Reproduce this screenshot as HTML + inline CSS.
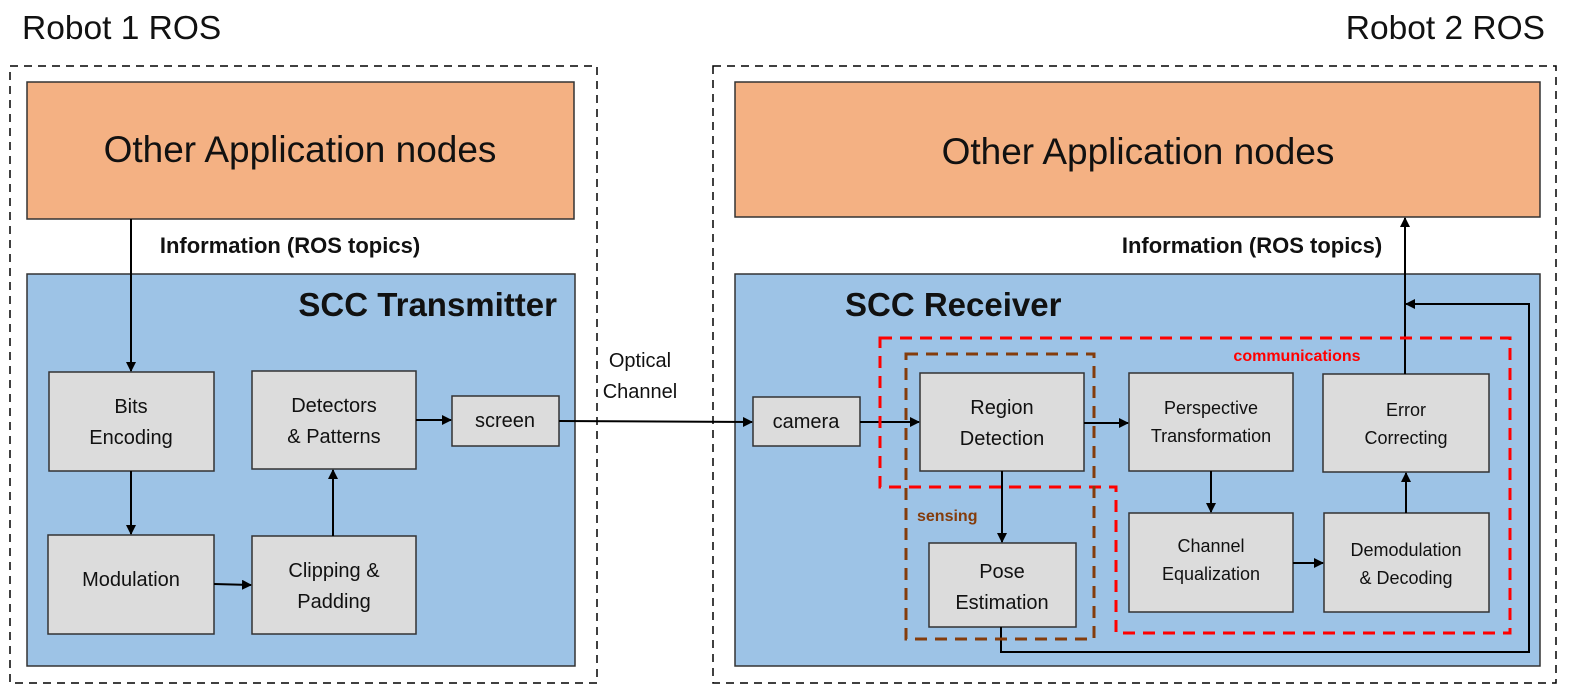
<!DOCTYPE html>
<html><head><meta charset="utf-8"><style>
html,body{margin:0;padding:0;background:#fff;}
svg{display:block;}
text{font-family:"Liberation Sans",sans-serif;fill:#111;}
</style></head><body>
<svg width="1570" height="700" viewBox="0 0 1570 700" xmlns="http://www.w3.org/2000/svg">
<defs>
<marker id="a" markerWidth="10" markerHeight="10" refX="9" refY="5" orient="auto" markerUnits="userSpaceOnUse">
<path d="M0,0 L10,5 L0,10 z" fill="#000"/></marker>
</defs>
<text x="22" y="39" font-size="33.5">Robot 1 ROS</text>
<text x="1545" y="39" font-size="33.5" text-anchor="end">Robot 2 ROS</text>

<rect x="10" y="66" width="587" height="617" fill="none" stroke="#000" stroke-width="1.5" stroke-dasharray="8,6"/>
<rect x="713" y="66" width="843" height="617" fill="none" stroke="#000" stroke-width="1.5" stroke-dasharray="8,6"/>

<rect x="27" y="82" width="547" height="137" fill="#f4b183" stroke="#333" stroke-width="1.5"/>
<text x="300" y="162" font-size="37" text-anchor="middle">Other Application nodes</text>
<rect x="735" y="82" width="805" height="135" fill="#f4b183" stroke="#333" stroke-width="1.5"/>
<text x="1138" y="164" font-size="37" text-anchor="middle">Other Application nodes</text>

<text x="290" y="253" font-size="22" font-weight="bold" text-anchor="middle">Information (ROS topics)</text>
<text x="1252" y="253" font-size="22" font-weight="bold" text-anchor="middle">Information (ROS topics)</text>

<rect x="27" y="274" width="548" height="392" fill="#9dc3e6" stroke="#333" stroke-width="1.5"/>
<rect x="735" y="274" width="805" height="392" fill="#9dc3e6" stroke="#333" stroke-width="1.5"/>
<text x="557" y="316" font-size="33" font-weight="bold" text-anchor="end">SCC Transmitter</text>
<text x="845" y="316" font-size="33" font-weight="bold">SCC Receiver</text>

<g fill="#dcdcdc" stroke="#333" stroke-width="1.5">
<rect x="49" y="372" width="165" height="99"/>
<rect x="48" y="535" width="166" height="99"/>
<rect x="252" y="371" width="164" height="98"/>
<rect x="252" y="536" width="164" height="98"/>
<rect x="452" y="396" width="107" height="50"/>
<rect x="753" y="397" width="107" height="49"/>
<rect x="920" y="373" width="164" height="98"/>
<rect x="1129" y="373" width="164" height="98"/>
<rect x="1323" y="374" width="166" height="98"/>
<rect x="1129" y="513" width="164" height="99"/>
<rect x="1324" y="513" width="165" height="99"/>
<rect x="929" y="543" width="147" height="84"/>
</g>
<g font-size="20" text-anchor="middle">
<text x="131" y="413">Bits</text><text x="131" y="444">Encoding</text>
<text x="131" y="586">Modulation</text>
<text x="334" y="412">Detectors</text><text x="334" y="443">&amp; Patterns</text>
<text x="334" y="577">Clipping &amp;</text><text x="334" y="608">Padding</text>
<text x="505" y="427">screen</text>
<text x="806" y="428">camera</text>
<text x="1002" y="414">Region</text><text x="1002" y="445">Detection</text>
<text x="1211" y="414" font-size="18">Perspective</text><text x="1211" y="442" font-size="18">Transformation</text>
<text x="1406" y="416" font-size="18">Error</text><text x="1406" y="444" font-size="18">Correcting</text>
<text x="1211" y="552" font-size="18">Channel</text><text x="1211" y="580" font-size="18">Equalization</text>
<text x="1406" y="556" font-size="18">Demodulation</text><text x="1406" y="584" font-size="18">&amp; Decoding</text>
<text x="1002" y="578">Pose</text><text x="1002" y="609">Estimation</text>
<text x="640" y="367">Optical</text><text x="640" y="398">Channel</text>
</g>

<g stroke="#000" stroke-width="2" fill="none" marker-end="url(#a)">
<line x1="131" y1="219" x2="131" y2="371"/>
<line x1="131" y1="471" x2="131" y2="534"/>
<line x1="214" y1="584" x2="251" y2="585"/>
<line x1="333" y1="536" x2="333" y2="470"/>
<line x1="416" y1="420" x2="451" y2="420"/>
<line x1="559" y1="421" x2="752" y2="422"/>
<line x1="860" y1="422" x2="919" y2="422"/>
<line x1="1084" y1="423" x2="1128" y2="423"/>
<line x1="1002" y1="471" x2="1002" y2="542"/>
<line x1="1211" y1="471" x2="1211" y2="512"/>
<line x1="1293" y1="563" x2="1323" y2="563"/>
<line x1="1406" y1="513" x2="1406" y2="473"/>
<line x1="1405" y1="374" x2="1405" y2="218"/>
<polyline points="1001,627 1001,652 1529,652 1529,304 1406,304"/>
</g>

<polygon points="880,338 1510,338 1510,633 1116,633 1116,487 880,487" fill="none" stroke="#ff0000" stroke-width="3" stroke-dasharray="12,8"/>
<rect x="906" y="354" width="188" height="285" fill="none" stroke="#843c0c" stroke-width="3" stroke-dasharray="12,8"/>
<text x="1297" y="361" font-size="16" font-weight="bold" text-anchor="middle" style="fill:#ff0000">communications</text>
<text x="917" y="521" font-size="16" font-weight="bold" style="fill:#843c0c">sensing</text>
</svg>
</body></html>
